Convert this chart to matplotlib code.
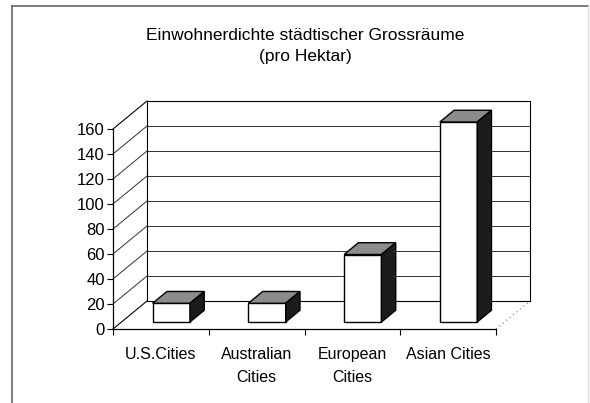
import matplotlib

matplotlib.use("Agg")
import matplotlib.pyplot as plt
from matplotlib.lines import Line2D
from matplotlib.patches import Polygon

plt.rcParams["font.family"] = ["Liberation Sans", "DejaVu Sans"]

title = "Einwohnerdichte städtischer Grossräume\n(pro Hektar)"
categories = ["U.S.Cities", "Australian\nCities", "European\nCities", "Asian Cities"]
density = [15, 15, 54, 160]
y_ticks = [0, 20, 40, 60, 80, 100, 120, 140, 160]

# fake 3D: depth 0 = front plane (axes), depth 1 = back wall
DEPTH_DX = 0.355  # category units
DEPTH_DY = 22.4   # value units
BAR_D0, BAR_D1 = 0.25, 0.67
BAR_W = 0.39


def proj(x, y, d):
    return (x + d * DEPTH_DX, y + d * DEPTH_DY)


fig = plt.figure(figsize=(5.9, 4.03), dpi=100)
ax = fig.add_axes([113 / 590, 74 / 403, 383 / 590, 200 / 403])
ax.set_xlim(0, 4)
ax.set_ylim(0, 160)
ax.patch.set_visible(False)

line_kw = dict(color="black", lw=0.8, clip_on=False, zorder=1)
grid_kw = dict(color="#333333", lw=0.7, clip_on=False, zorder=1)

# back wall with gridlines
n = len(categories)
for v in y_ticks:
    kw = line_kw if v in (0, 160) else grid_kw
    xs, ys = zip(proj(0, v, 1), proj(n, v, 1))
    ax.plot(xs, ys, **kw)
    # left wall diagonals
    xs, ys = zip(proj(0, v, 0), proj(0, v, 1))
    ax.plot(xs, ys, **kw)
for x in (0, n):
    xs, ys = zip(proj(x, 0, 1), proj(x, 160, 1))
    ax.plot(xs, ys, **line_kw)
# right floor edge, dotted
xs, ys = zip(proj(n, 0, 0), proj(n, 0, 1))
ax.plot(xs, ys, color="#777777", lw=0.8, ls=(0, (1, 3)), clip_on=False)

# bars
for i, v in enumerate(density):
    x0 = i + 0.52 - BAR_W / 2
    x1 = x0 + BAR_W
    front = [proj(x0, 0, BAR_D0), proj(x1, 0, BAR_D0), proj(x1, v, BAR_D0), proj(x0, v, BAR_D0)]
    top = [proj(x0, v, BAR_D0), proj(x1, v, BAR_D0), proj(x1, v, BAR_D1), proj(x0, v, BAR_D1)]
    side = [proj(x1, 0, BAR_D0), proj(x1, v, BAR_D0), proj(x1, v, BAR_D1), proj(x1, 0, BAR_D1)]
    for pts, fc in ((front, "white"), (top, "#8c8c8c"), (side, "#1c1c1c")):
        ax.add_patch(Polygon(pts, closed=True, facecolor=fc, edgecolor="black",
                             lw=1.0, clip_on=False, zorder=3))

# axes: front left spine and floor line
for s in ("top", "right"):
    ax.spines[s].set_visible(False)
ax.spines["left"].set_linewidth(0.9)
ax.spines["bottom"].set_linewidth(0.9)
ax.set_yticks(y_ticks)
ax.tick_params(axis="y", direction="out", length=4, width=0.8, labelsize=12, pad=2)
ax.set_xticks(range(n + 1))
ax.set_xticklabels([])
ax.tick_params(axis="x", which="major", direction="out", length=4, width=0.8)
ax.set_xticks([i + 0.5 for i in range(n)], minor=True)
ax.set_xticklabels(categories, minor=True, fontsize=11.5, linespacing=1.65)
ax.tick_params(axis="x", which="minor", length=0, pad=13)

fig.text(0.517, 0.886, title, ha="center", va="center", fontsize=12.5, linespacing=1.45)

# chart frame
fig.add_artist(Line2D([12 / 590, 12 / 590], [0, 397 / 403], color="#666666", lw=1.2))
fig.add_artist(Line2D([12 / 590, 588 / 590], [397 / 403, 397 / 403], color="#666666", lw=1.2))
fig.add_artist(Line2D([588 / 590, 588 / 590], [0, 397 / 403], color="#dddddd", lw=1.0))

fig.savefig("out.png", dpi=100)
